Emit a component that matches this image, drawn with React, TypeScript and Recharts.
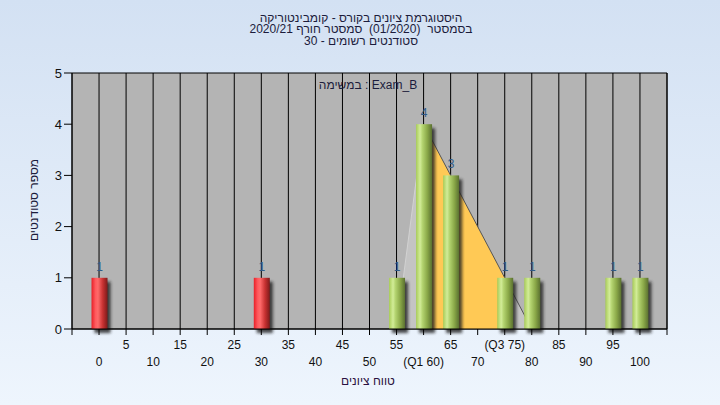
import React from "react";
import { Area, Bar, CartesianGrid, ComposedChart, LabelList, XAxis, YAxis } from "recharts";

// histogram bars: score bucket -> number of students
const scores = [0, 30, 55, 60, 65, 75, 80, 95, 100];
const counts = [1, 1, 1, 4, 3, 1, 1, 1, 1];
const passMark = 55;

// triangle overlay (outer parts grey, Q1..Q3 part yellow)
const outerLeft = [
  { score: 55, tri: 0 },
  { score: 60, tri: 4 },
];
const quartileBand = [
  { score: 60, tri: 4 },
  { score: 75, tri: 1 },
];
const outerRight = [
  { score: 75, tri: 1 },
  { score: 80, tri: 0 },
];

const xTicks = [-5, 0, 5, 10, 15, 20, 25, 30, 35, 40, 45, 50, 55, 60, 65, 70, 75, 80, 85, 90, 95, 100, 105];
const xTickLabels: Record<number, string> = { 60: "(Q1 60)", 75: "(Q3 75)" };
const yTicks = [0, 1, 2, 3, 4, 5];

// reading order (right to left)
const titleLines = [
  ["היסטוגרמת", "ציונים", "בקורס", "-", "קומבינטוריקה"],
  ["בסמסטר", " (01/2020) ", "סמסטר", "חורף", "2020/21"],
  ["סטודנטים", "רשומים", "-", "30"],
];
const xAxisTitle = ["טווח", "ציונים"];
const yAxisTitle = "מספר סטודנטים";
// this one is drawn left to right
const taskLabel = ["במשימה", ":", "Exam_B"];

const data = scores.map((score, i) => ({ score, count: counts[i] }));

const FONT = '"Liberation Sans", "DejaVu Sans", Arial, sans-serif';

// flex keeps the words in the given order, each word shaped on its own
function Words({ words, style, rtl }: { words: string[]; style: React.CSSProperties; rtl?: boolean }) {
  return (
    <div
      style={{
        position: "absolute",
        display: "flex",
        direction: rtl ? "rtl" : "ltr",
        columnGap: 3.4,
        transform: "translate(-50%, -50%)",
        fontSize: 12,
        lineHeight: "11px",
        whiteSpace: "pre",
        ...style,
      }}
    >
      {words.map((w, i) => (
        <span key={i} style={{ unicodeBidi: "isolate" }}>
          {w}
        </span>
      ))}
    </div>
  );
}

function XTick(props: any) {
  const { x, y, payload } = props;
  const v = payload.value as number;
  if (v < 0 || v > 100) return null;
  const upper = (v / 5) % 2 === 1;
  const text = xTickLabels[v] ?? String(v);
  return (
    <text x={x} y={y + (upper ? 8 : 25)} textAnchor="middle" dominantBaseline="central" fontSize={12} fontFamily={FONT} fill="#111">
      {text}
    </text>
  );
}

function CylinderBar(props: any) {
  const { x, y, width, height, index, payload } = props;
  if (!height || height <= 0) return null;
  const fail = payload.score < passMark;
  const gid = `bar-grad-${index}`;
  const fid = `bar-shadow-${index}`;
  const stops = fail
    ? ["#e82028", "#ff5a5e", "#ff6a6a", "#c83232", "#7e1a1a"]
    : ["#a8cc58", "#d2ec98", "#b4d470", "#8aa848", "#5a7030"];
  return (
    <g>
      <defs>
        <linearGradient id={gid} x1="0" x2="1" y1="0" y2="0">
          <stop offset="0" stopColor={stops[0]} />
          <stop offset="0.25" stopColor={stops[1]} />
          <stop offset="0.4" stopColor={stops[2]} />
          <stop offset="0.7" stopColor={stops[3]} />
          <stop offset="1" stopColor={stops[4]} />
        </linearGradient>
        <filter id={fid} x="-50%" y="-20%" width="200%" height="140%">
          <feGaussianBlur stdDeviation="1.8" />
        </filter>
      </defs>
      <rect x={x + 3} y={y + 4} width={width} height={height} fill="#1a1a1a" opacity={0.8} filter={`url(#${fid})`} />
      <rect x={x} y={y} width={width} height={height} fill={`url(#${gid})`} />
    </g>
  );
}

export default function App() {
  return (
    <div
      style={{
        position: "relative",
        width: 720,
        height: 405,
        background: "linear-gradient(#d3e1f3, #eef5fd)",
        fontFamily: FONT,
        overflow: "hidden",
      }}
    >
      <style>{`body{margin:0}`}</style>
      <ComposedChart width={720} height={405} data={data} margin={{ top: 73, right: 13, bottom: 16, left: 12 }}>
        <CartesianGrid stroke="#000" strokeWidth={1} fill="#b4b4b4" fillOpacity={1} />
        <XAxis
          xAxisId={0}
          type="number"
          dataKey="score"
          domain={[-5, 105]}
          ticks={xTicks}
          interval={0}
          tick={<XTick />}
          tickSize={6}
          tickMargin={2}
          height={60}
          axisLine={{ stroke: "#000" }}
          tickLine={{ stroke: "#000" }}
          allowDataOverflow
        />
        <YAxis
          yAxisId="left"
          domain={[0, 5]}
          ticks={yTicks}
          interval={0}
          width={60}
          tickSize={8}
          tickMargin={2}
          axisLine={{ stroke: "#000" }}
          tickLine={{ stroke: "#000" }}
          tick={{ fill: "#111", fontSize: 13, fontFamily: FONT }}
        />
        <YAxis
          yAxisId="right"
          orientation="right"
          domain={[0, 5]}
          ticks={yTicks}
          interval={0}
          width={40}
          tickSize={8}
          tickMargin={2}
          axisLine={{ stroke: "#000" }}
          tickLine={{ stroke: "#000" }}
          tick={{ fill: "#111", fontSize: 13, fontFamily: FONT }}
        />
        <Area yAxisId="left" data={outerLeft} dataKey="tri" type="linear" fill="#c4c4c4" fillOpacity={1} stroke="#d2d2d2" strokeWidth={1} isAnimationActive={false} />
        <Area yAxisId="left" data={quartileBand} dataKey="tri" type="linear" fill="#ffc955" fillOpacity={1} stroke="#555" strokeWidth={1} isAnimationActive={false} />
        <Area yAxisId="left" data={outerRight} dataKey="tri" type="linear" fill="#c4c4c4" fillOpacity={1} stroke="#555" strokeWidth={1} isAnimationActive={false} />
        <Bar yAxisId="left" dataKey="count" barSize={16} shape={<CylinderBar />} isAnimationActive={false}>
          <LabelList dataKey="count" position="top" offset={7} fill="#2f5a86" fontSize={12} fontFamily={FONT} />
        </Bar>
      </ComposedChart>

      {titleLines.map((line, i) => (
        <Words key={i} rtl words={line} style={{ left: 361, top: 17.5 + i * 11.8, color: "#1c1c3c" }} />
      ))}

      <Words words={taskLabel} style={{ left: 368, top: 85, color: "#1c1c3c" }} />

      <Words rtl words={xAxisTitle} style={{ left: 368, top: 381, color: "#2a1040" }} />

      <div
        style={{
          position: "absolute",
          left: 34,
          top: 200,
          transform: "translate(-50%, -50%) rotate(-90deg)",
          fontSize: 12,
          color: "#1c1c3c",
          whiteSpace: "nowrap",
        }}
      >
        {yAxisTitle}
      </div>
    </div>
  );
}
